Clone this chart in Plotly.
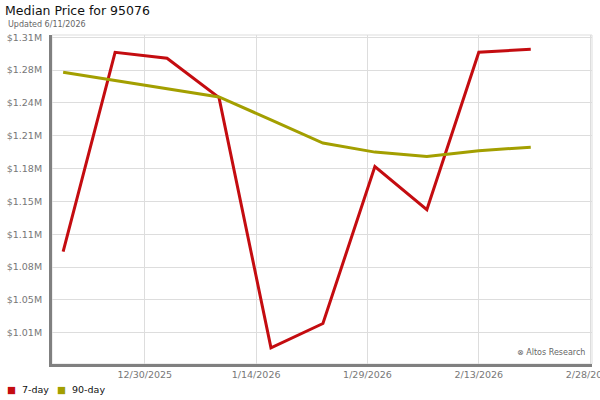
import plotly.graph_objects as go

# weekly dates and median prices (in $M)
dates = ["2025-12-19", "2025-12-26", "2026-01-02", "2026-01-09", "2026-01-16",
         "2026-01-23", "2026-01-30", "2026-02-06", "2026-02-13", "2026-02-20"]
price7 = [1.0948, 1.2957, 1.2897, 1.2500, 0.9979, 1.0224, 1.1806, 1.1370, 1.2957, 1.2987]
price90 = [1.2756, 1.2674, 1.2593, 1.2507, 1.2276, 1.2042, 1.1951, 1.1907, 1.1964, 1.2001]

yticks = [1.013 + 0.0331 * k for k in range(10)]
ylabels = ["$%.2fM" % v for v in yticks]
xticks = ["2025-12-30", "2026-01-14", "2026-01-29", "2026-02-13", "2026-02-28"]

red = "#c40c10"
olive = "#a39f00"
font = "DejaVu Sans"

fig = go.Figure()
fig.add_trace(go.Scatter(x=dates, y=price7, mode="lines", name="7-day",
                         line=dict(color=red, width=3), showlegend=False))
fig.add_trace(go.Scatter(x=dates, y=price90, mode="lines", name="90-day",
                         line=dict(color=olive, width=3), showlegend=False))

fig.update_layout(
    width=600, height=400,
    margin=dict(l=52, r=8, t=35, b=36),
    paper_bgcolor="white", plot_bgcolor="white",
    font=dict(family=font, color="#777777", size=9.5),
    shapes=[dict(type="rect", xref="paper", yref="paper", x0=0, x1=1, y0=0, y1=1,
                 line=dict(color="#dddddd", width=1), layer="below")],
    annotations=[
        dict(text="Median Price for 95076", xref="paper", yref="paper", x=-0.091, y=1.045,
             xanchor="left", yanchor="bottom", showarrow=False,
             font=dict(size=12.5, color="#111111", family=font)),
        dict(text="Updated 6/11/2026", xref="paper", yref="paper", x=-0.086, y=1.012,
             xanchor="left", yanchor="bottom", showarrow=False,
             font=dict(size=8, color="#666666", family=font)),
        dict(text="⊗ Altos Research", xref="paper", yref="paper", x=0.99, y=0.015,
             xanchor="right", yanchor="bottom", showarrow=False,
             font=dict(size=8, color="#666666", family=font)),
        dict(text="<span style='color:%s'>■</span>  7-day" % red, xref="paper", yref="paper",
             x=-0.087, y=-0.055, xanchor="left", yanchor="top", showarrow=False,
             font=dict(size=9.5, color="#111111", family=font)),
        dict(text="<span style='color:%s'>■</span>  90-day" % olive, xref="paper", yref="paper",
             x=0.006, y=-0.055, xanchor="left", yanchor="top", showarrow=False,
             font=dict(size=9.5, color="#111111", family=font)),
    ],
)
fig.update_xaxes(
    range=["2025-12-17 12:00", "2026-02-28 06:00"],
    tickvals=xticks, tickformat="%-m/%-d/%Y", ticklabeloverflow="allow",
    automargin=False,
    showgrid=True, gridcolor="#dddddd", gridwidth=1,
    showline=True, linecolor="#808080", linewidth=3,
    ticks="", zeroline=False,
)
fig.update_yaxes(
    range=[0.9816, 1.3131], automargin=False,
    tickvals=yticks, ticktext=ylabels,
    showgrid=True, gridcolor="#dddddd", gridwidth=1,
    showline=True, linecolor="#808080", linewidth=3,
    ticks="", zeroline=False, ticklabelstandoff=5,
)

fig.write_html("out.html", config={"displayModeBar": False},
               post_script="document.body.style.margin='0';")
